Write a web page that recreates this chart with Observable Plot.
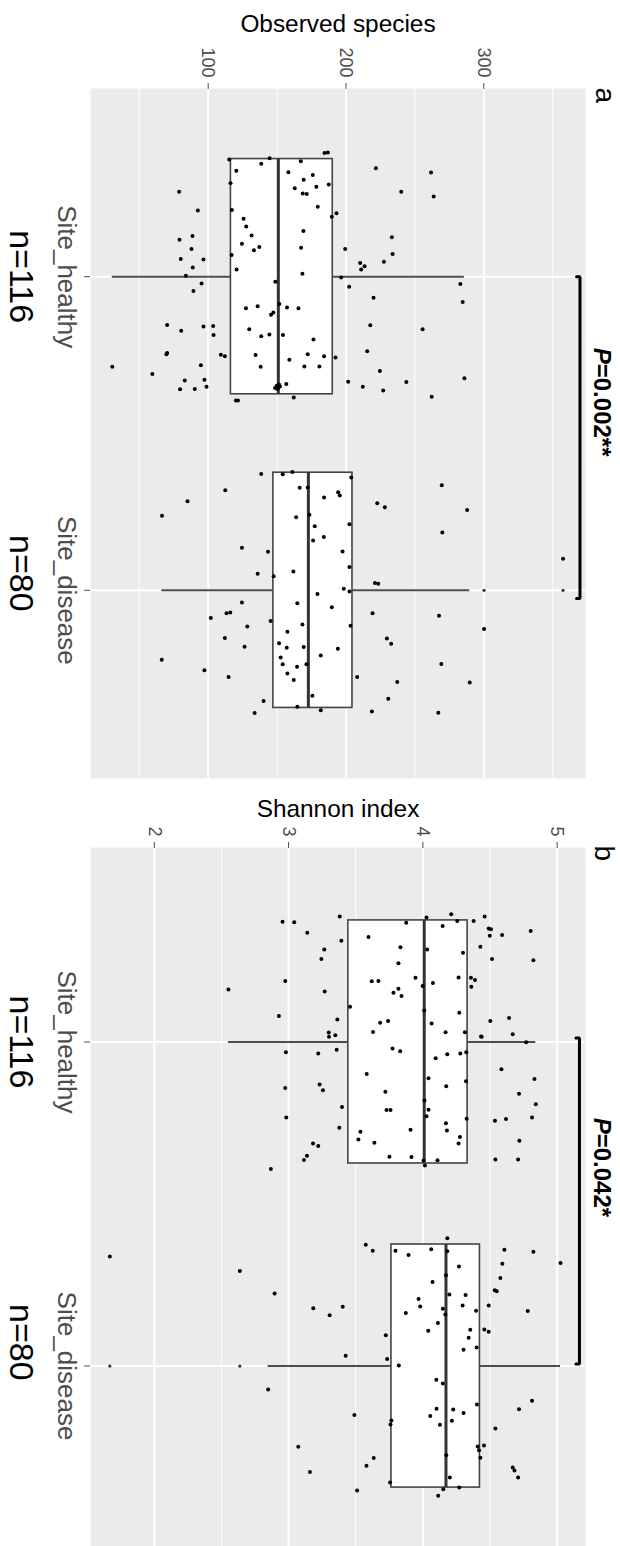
<!DOCTYPE html>
<html>
<head>
<meta charset="utf-8">
<script src="https://cdn.jsdelivr.net/npm/d3@7"></script>
<script src="https://cdn.jsdelivr.net/npm/@observablehq/plot@0.6"></script>
<style>
  html, body { margin: 0; padding: 0; overflow: hidden; background: #fff; }
  #chart { position: relative; width: 620px; height: 1546px; overflow: hidden; background: #fff; }
  #chart > svg { position: absolute; left: 0; }
</style>
</head>
<body>
<div id="chart"></div>
<script>
// Groups and their sample sizes
const groups = ["Site_healthy", "Site_disease"];
const groupSizes = ["n=116", "n=80"];

// Observed species per sample: [value, jitter offset within the group band]
const observedHealthy = [
  [184.4,-0.394],[186.8,-0.396],[144.6,-0.378],[115.3,-0.374],[167.2,-0.368],[138.5,-0.360],[221.7,-0.346],[261.7,-0.332],[120.4,-0.338],[158.2,-0.333],
  [175.9,-0.324],[169.3,-0.309],[187.5,-0.294],[116.2,-0.298],[178.5,-0.287],[162.8,-0.282],[78.9,-0.271],[240.1,-0.271],[168.6,-0.265],[171.5,-0.264],
  [263.6,-0.256],[179.5,-0.223],[92.5,-0.211],[117.2,-0.213],[193.1,-0.202],[189.7,-0.191],[125.7,-0.185],[127.6,-0.160],[169.1,-0.146],[131.5,-0.131],
  [88.6,-0.130],[233.3,-0.126],[79.2,-0.118],[124.5,-0.105],[167.4,-0.092],[137.1,-0.095],[133.2,-0.084],[87.9,-0.088],[199.4,-0.088],[117.0,-0.069],
  [233.8,-0.072],[80.1,-0.056],[96.6,-0.055],[227.5,-0.048],[210.3,-0.044],[213.5,-0.033],[211.0,-0.023],[88.8,-0.029],[120.6,-0.023],[168.4,-0.009],
  [83.8,-0.003],[196.5,0.003],[148.7,0.016],[95.2,0.022],[283.0,0.023],[202.3,0.032],[89.3,0.046],[220.0,0.067],[284.7,0.081],[151.6,0.087],
  [135.9,0.094],[157.2,0.098],[165.5,0.101],[127.4,0.101],[145.6,0.121],[147.3,0.114],[70.2,0.154],[96.6,0.159],[103.6,0.157],[217.6,0.155],
  [80.4,0.172],[129.8,0.168],[255.6,0.168],[103.9,0.186],[138.5,0.190],[144.4,0.184],[154.3,0.186],[176.4,0.200],[215.4,0.238],[69.7,0.247],
  [70.2,0.243],[109.2,0.249],[112.1,0.254],[134.4,0.250],[172.2,0.247],[184.1,0.254],[192.4,0.258],[30.4,0.287],[94.7,0.282],[138.1,0.287],
  [169.8,0.286],[180.7,0.286],[224.6,0.301],[59.5,0.310],[83.0,0.331],[97.3,0.329],[201.6,0.335],[243.8,0.336],[285.9,0.324],[158.9,0.265],
  [156.7,0.342],[149.7,0.348],[150.9,0.353],[152.1,0.350],[150.2,0.358],[148.5,0.355],[151.4,0.344],[79.6,0.359],[90.3,0.358],[98.8,0.351],
  [212.2,0.351],[227.0,0.363],[162.1,0.385],[120.1,0.395],[121.6,0.395],[262.2,0.383]
];
const observedDisease = [
  [138.5,-0.371],[154.1,-0.370],[161.1,-0.377],[203.8,-0.360],[112.4,-0.319],[166.4,-0.327],[172.2,-0.328],[194.3,-0.313],[195.5,-0.302],[184.1,-0.296],
  [269.5,-0.335],[85.0,-0.284],[222.7,-0.278],[228.2,-0.265],[66.5,-0.238],[163.8,-0.233],[173.5,-0.241],[287.9,-0.256],[177.3,-0.204],[202.5,-0.211],
  [269.9,-0.184],[183.9,-0.170],[176.1,-0.159],[124.5,-0.136],[143.4,-0.123],[197.5,-0.124],[357.5,-0.101],[202.5,-0.074],[135.9,-0.053],[147.5,-0.045],
  [161.8,-0.060],[221.0,-0.023],[223.4,-0.021],[198.4,-0.005],[202.5,0.004],[179.3,0.012],[124.5,0.039],[164.7,0.041],[189.7,0.054],[219.3,0.073],
  [267.5,0.081],[101.9,0.088],[113.3,0.073],[116.0,0.071],[145.3,0.098],[128.4,0.115],[168.4,0.109],[203.3,0.113],[300.2,0.123],[157.5,0.132],
  [112.1,0.152],[229.7,0.154],[232.8,0.170],[151.4,0.169],[157.0,0.183],[169.3,0.181],[194.1,0.186],[126.4,0.180],[152.6,0.214],[181.7,0.208],
  [66.3,0.221],[154.1,0.236],[164.5,0.244],[171.3,0.236],[269.2,0.235],[97.3,0.255],[157.5,0.265],[114.8,0.276],[208.1,0.276],[162.1,0.286],
  [237.2,0.292],[289.8,0.294],[175.6,0.336],[140.2,0.353],[230.7,0.346],[164.7,0.371],[181.7,0.382],[133.7,0.391],[218.8,0.386],[267.0,0.390]
];
const observedBox = [
  {group: "Site_healthy", lo: 30.4, q1: 116.5, median: 150.9, q3: 190.4, hi: 285.9},
  {group: "Site_disease", lo: 66.3, q1: 147.3, median: 172.7, q3: 204.7, hi: 289.8}
];
const observedOutliers = [
  {group: "Site_disease", value: 300.2},
  {group: "Site_disease", value: 357.5}
];
const observedTicks = [100, 200, 300];
const observedMinorTicks = [50, 150, 250, 350];

// Shannon index per sample: [value, jitter offset within the group band]
const shannonHealthy = [
  [3.381,-0.387],[2.955,-0.371],[3.042,-0.369],[3.876,-0.368],[4.027,-0.384],[4.211,-0.394],[4.256,-0.373],[4.378,-0.373],[4.460,-0.387],[4.147,-0.358],
  [3.139,-0.337],[4.490,-0.350],[4.507,-0.348],[4.803,-0.342],[4.498,-0.328],[4.590,-0.330],[3.595,-0.324],[3.393,-0.312],[3.833,-0.292],[4.032,-0.285],
  [3.266,-0.285],[4.428,-0.294],[4.299,-0.275],[3.244,-0.256],[4.515,-0.256],[4.823,-0.252],[3.818,-0.243],[2.975,-0.188],[3.619,-0.187],[3.669,-0.188],
  [3.945,-0.198],[4.266,-0.199],[4.358,-0.198],[4.388,-0.191],[4.075,-0.182],[3.998,-0.173],[4.361,-0.170],[2.552,-0.162],[3.269,-0.156],[3.781,-0.152],
  [3.818,-0.164],[3.841,-0.142],[3.458,-0.109],[2.928,-0.080],[4.271,-0.090],[4.642,-0.074],[4.502,-0.065],[3.363,-0.069],[3.682,-0.059],[3.741,-0.065],
  [4.065,-0.057],[3.629,-0.031],[4.169,-0.030],[4.313,-0.030],[3.299,-0.029],[3.301,-0.016],[3.348,-0.021],[4.433,-0.017],[4.438,-0.016],[4.669,-0.024],
  [4.769,0.001],[2.980,0.032],[3.221,0.036],[3.358,0.024],[3.774,0.020],[3.831,0.029],[4.182,0.038],[4.279,0.036],[4.323,0.032],[4.095,0.050],
  [4.585,0.084],[3.582,0.099],[4.042,0.112],[4.831,0.114],[4.321,0.121],[3.231,0.131],[3.256,0.149],[2.975,0.142],[4.174,0.137],[3.721,0.154],
  [4.716,0.160],[4.841,0.192],[3.398,0.201],[3.729,0.210],[3.759,0.210],[4.042,0.209],[2.983,0.233],[4.027,0.229],[4.326,0.237],[4.537,0.243],
  [4.619,0.238],[4.813,0.233],[3.378,0.265],[4.172,0.251],[3.535,0.277],[3.908,0.271],[4.179,0.273],[3.520,0.301],[4.276,0.293],[4.266,0.313],
  [4.719,0.305],[3.182,0.313],[3.221,0.321],[3.639,0.311],[3.137,0.351],[3.114,0.364],[3.751,0.354],[3.915,0.355],[4.109,0.365],[4.005,0.366],
  [4.540,0.363],[4.709,0.363],[4.015,0.381],[2.868,0.392],[4.010,-0.097],[4.012,0.181]
];
const shannonDisease = [
  [1.669,-0.338],[2.637,-0.293],[2.896,-0.224],[3.575,-0.374],[3.627,-0.356],[3.796,-0.356],[3.893,-0.343],[4.062,-0.360],[4.182,-0.394],[4.182,-0.354],
  [4.607,-0.359],[4.823,-0.353],[5.025,-0.318],[4.269,-0.307],[4.592,-0.316],[4.577,-0.272],[4.072,-0.259],[4.535,-0.234],[4.550,-0.231],[4.197,-0.221],
  [4.318,-0.219],[3.968,-0.207],[3.980,-0.184],[4.149,-0.177],[4.167,-0.159],[3.873,-0.164],[4.296,-0.187],[4.396,-0.171],[4.490,-0.187],[3.184,-0.178],
  [3.403,-0.183],[3.306,-0.157],[4.781,-0.170],[4.112,-0.133],[4.040,-0.109],[4.353,-0.112],[4.458,-0.113],[4.490,-0.106],[4.341,-0.087],[3.724,-0.095],
  [4.303,-0.050],[4.400,-0.057],[3.425,-0.032],[3.734,-0.022],[3.821,-0.002],[4.100,0.042],[4.149,0.054],[2.848,0.072],[4.813,0.107],[4.716,0.133],
  [4.403,0.119],[4.102,0.132],[4.055,0.154],[4.127,0.181],[4.226,0.134],[4.303,0.145],[4.216,0.169],[3.490,0.151],[3.766,0.168],[3.759,0.180],
  [4.540,0.193],[3.072,0.249],[4.408,0.248],[4.455,0.245],[4.418,0.260],[4.428,0.283],[3.634,0.284],[3.580,0.308],[3.159,0.327],[4.669,0.313],
  [4.682,0.322],[4.709,0.344],[3.756,0.359],[4.201,0.344],[4.271,0.375],[4.152,0.380],[3.510,0.384],[4.114,0.400],[4.172,-0.280],[4.174,0.275]
];
const shannonBox = [
  {group: "Site_healthy", lo: 2.552, q1: 3.445, median: 4.010, q3: 4.333, hi: 4.841},
  {group: "Site_disease", lo: 2.848, q1: 3.766, median: 4.172, q3: 4.425, hi: 5.025}
];
const shannonOutliers = [
  {group: "Site_disease", value: 1.669},
  {group: "Site_disease", value: 2.637}
];
const shannonTicks = [2, 3, 4, 5];
const shannonMinorTicks = [2.5, 3.5, 4.5];

// Significance annotations
const observedTest = {label: "P=0.002**", at: 369.8, tip: 367.3, from: 1.0, to: 2.026, labelAt: 1.400};
const shannonTest = {label: "P=0.042*", at: 5.166, tip: 5.140, from: 0.988, to: 1.994, labelAt: 1.387};

const FONT = "'Liberation Sans', Arial, Helvetica, sans-serif";
const BOX_HALF = 0.375;
const pos = g => groups.indexOf(g) + 1;

function panel(cfg) {
  const points = [
    ...cfg.healthy.map(([v, j]) => ({x: v, y: 1 + j})),
    ...cfg.disease.map(([v, j]) => ({x: v, y: 2 + j}))
  ];
  const box = cfg.box.map(d => ({...d, y: pos(d.group), y1: pos(d.group) - BOX_HALF, y2: pos(d.group) + BOX_HALF}));
  const t = cfg.test;
  const bracket = [
    {x: t.tip, y: t.from}, {x: t.at, y: t.from},
    {x: t.at, y: t.to}, {x: t.tip, y: t.to}
  ];
  const white = {stroke: "white", strokeOpacity: 1};

  const svg = Plot.plot({
    width: 620,
    height: cfg.height,
    marginTop: cfg.marginTop,
    marginBottom: cfg.marginBottom,
    marginLeft: 90,
    marginRight: 35,
    style: {fontFamily: FONT, background: "transparent", overflow: "visible"},
    x: {domain: cfg.domain, axis: null},
    y: {domain: [0.4, 2.6], reverse: true, axis: null},
    marks: [
      Plot.frame({fill: "#EBEBEB", stroke: "none"}),
      Plot.gridX(cfg.minorTicks, {...white, strokeWidth: 1}),
      Plot.gridX(cfg.ticks, {...white, strokeWidth: 2}),
      Plot.gridY([1, 2], {...white, strokeWidth: 2}),
      Plot.axisX(cfg.ticks, {
        anchor: "top", tickSize: 6, tickPadding: 5, tickRotate: 90,
        fontSize: 18, color: "#4D4D4D", label: null, tickFormat: d => String(d)
      }),
      Plot.axisY([1, 2], {
        anchor: "left", tickSize: 6, tickPadding: 8, tickRotate: 90,
        fontSize: 26, color: "#4D4D4D", label: null, tickFormat: d => groups[d - 1]
      }),
      // boxplot: whiskers, box, median, outliers
      Plot.ruleY(box, {y: "y", x1: "lo", x2: "q1", stroke: "#4D4D4D", strokeWidth: 2}),
      Plot.ruleY(box, {y: "y", x1: "q3", x2: "hi", stroke: "#4D4D4D", strokeWidth: 2}),
      Plot.rect(box, {x1: "q1", x2: "q3", y1: "y1", y2: "y2", fill: "white", stroke: "#444", strokeWidth: 1.6}),
      Plot.ruleX(box, {x: "median", y1: "y1", y2: "y2", stroke: "#333", strokeWidth: 3}),
      Plot.dot(cfg.outliers, {x: "value", y: d => pos(d.group), r: 1.6, fill: "#333", stroke: "none"}),
      // jittered samples
      Plot.dot(points, {x: "x", y: "y", r: 2, fill: "black", stroke: "none"}),
      // significance bracket
      Plot.line(bracket, {x: "x", y: "y", stroke: "black", strokeWidth: 3, strokeLinejoin: "miter"}),
      Plot.text([t.label], {
        y: t.labelAt, frameAnchor: "right", dx: 16, rotate: 90,
        fontSize: 24, fontWeight: "bold", fill: "black", textAnchor: "middle", lineAnchor: "middle"
      }),
      // axis title and panel tag
      Plot.text([cfg.title], {frameAnchor: "top", dy: cfg.titleDy, fontSize: 24.4, fill: "black", lineAnchor: "bottom"}),
      Plot.text([cfg.tag], {
        frameAnchor: "top-right", dx: cfg.tagDx, dy: cfg.tagDy, rotate: 90,
        fontSize: 28, fill: "black", textAnchor: "start", lineAnchor: "middle"
      }),
      // group sizes
      Plot.text(groupSizes, {
        y: (d, i) => i + 1 + cfg.nShift[i], frameAnchor: "left", dx: -70, rotate: 90,
        fontSize: 34, fill: "black", textAnchor: "middle", lineAnchor: "middle"
      })
    ]
  });

  // italic P in the significance label
  d3.select(svg).selectAll("text")
    .filter(function () { return this.textContent === t.label; })
    .each(function () {
      const s = d3.select(this);
      s.text(null);
      s.append("tspan").attr("font-style", "italic").text("P");
      s.append("tspan").text(t.label.slice(1));
    });

  svg.style.top = cfg.top + "px";
  return svg;
}

const chart = document.getElementById("chart");
chart.appendChild(panel({
  top: 0, height: 800, marginTop: 88, marginBottom: 22,
  domain: [14.6, 373.8], ticks: observedTicks, minorTicks: observedMinorTicks,
  healthy: observedHealthy, disease: observedDisease, box: observedBox, outliers: observedOutliers,
  test: observedTest, title: "Observed species", titleDy: -56.5, tag: "a", tagDx: 19.5, tagDy: -1,
  nShift: [0, -0.054]
}));
chart.appendChild(panel({
  top: 800, height: 760, marginTop: 47, marginBottom: 0,
  domain: [1.525, 5.211], ticks: shannonTicks, minorTicks: shannonMinorTicks,
  healthy: shannonHealthy, disease: shannonDisease, box: shannonBox, outliers: shannonOutliers,
  test: shannonTest, title: "Shannon index", titleDy: -31, tag: "b", tagDx: 18, tagDy: -2,
  nShift: [0, -0.073]
}));
</script>
</body>
</html>
